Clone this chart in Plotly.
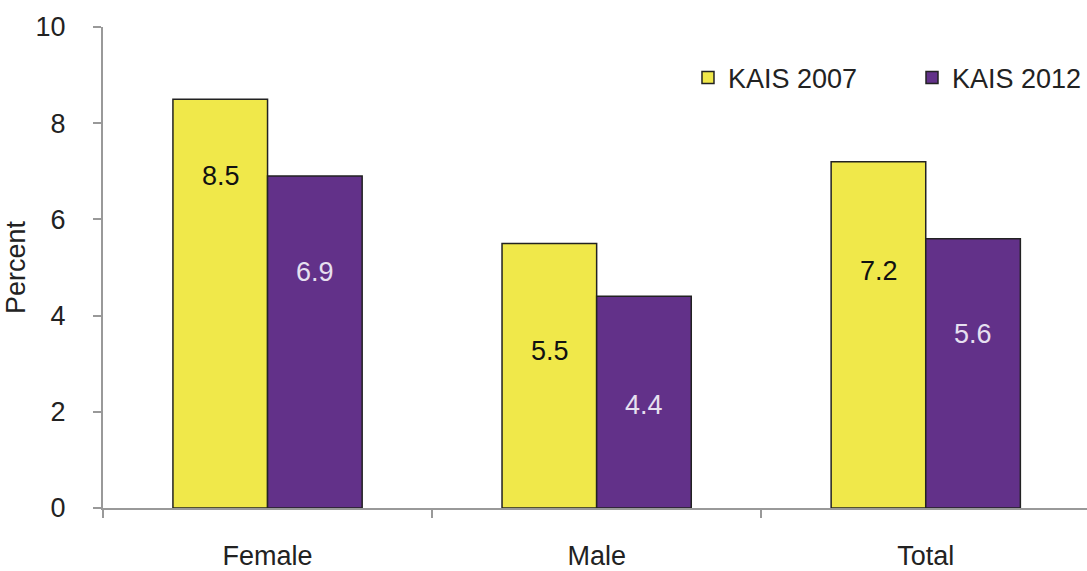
import plotly.graph_objects as go

categories = ["Female", "Male", "Total"]
kais_2007 = [8.5, 5.5, 7.2]
kais_2012 = [6.9, 4.4, 5.6]
series_names = ["KAIS 2007", "KAIS 2012"]
y_ticks = [0, 2, 4, 6, 8, 10]

# label placement (style only): pixel offset below each bar top
label_drop_2007 = [77, 108, 109]
label_drop_2012 = [96, 109, 95]

YELLOW = "#F0E84A"
PURPLE = "#623189"
FONT = "Liberation Sans, Arial, sans-serif"
FS = 27

fig = go.Figure()
fig.add_trace(go.Bar(x=categories, y=kais_2007, name=series_names[0], legend="legend",
                     marker=dict(color=YELLOW, line=dict(color="#222222", width=1.5))))
fig.add_trace(go.Bar(x=categories, y=kais_2012, name=series_names[1], legend="legend2",
                     marker=dict(color=PURPLE, line=dict(color="#222222", width=1.5))))

annotations = []
for i, c in enumerate(categories):
    annotations.append(dict(x=c, y=kais_2007[i], text=f"{kais_2007[i]:.1f}", showarrow=False,
                            xshift=-47, yshift=-label_drop_2007[i],
                            font=dict(size=FS, color="#111111", family=FONT)))
    annotations.append(dict(x=c, y=kais_2012[i], text=f"{kais_2012[i]:.1f}", showarrow=False,
                            xshift=47, yshift=-label_drop_2012[i],
                            font=dict(size=FS, color="#E6E0F0", family=FONT)))

legend_common = dict(orientation="h", yanchor="middle", y=0.894, itemwidth=30,
                     font=dict(size=FS, color="#222222", family=FONT),
                     bgcolor="rgba(0,0,0,0)")

fig.update_layout(
    width=1087, height=571,
    margin=dict(l=103, r=0, t=27, b=63),
    paper_bgcolor="white", plot_bgcolor="white",
    barmode="group", bargap=0.425, bargroupgap=0,
    font=dict(family=FONT, size=FS, color="#222222"),
    showlegend=True,
    legend=dict(x=0.5945, xanchor="left", **legend_common),
    legend2=dict(x=1.0, xanchor="right", **legend_common),
    annotations=annotations,
)
fig.update_xaxes(
    range=[-0.5, 2.49], showline=True, linecolor="#999999", linewidth=2,
    ticks="outside", tickson="boundaries", ticklen=8, tickcolor="#999999", tickwidth=2,
    ticklabelstandoff=23, showgrid=False, zeroline=False, automargin=False,
    tickfont=dict(size=FS, color="#222222", family=FONT),
)
fig.update_yaxes(
    range=[0, 10], tickvals=y_ticks, showline=True, linecolor="#999999", linewidth=2,
    ticks="outside", ticklen=8, tickcolor="#999999", tickwidth=2,
    ticklabelstandoff=22, showgrid=False, zeroline=False, automargin=False,
    title=dict(text="Percent", font=dict(size=FS, color="#222222", family=FONT), standoff=2),
    tickfont=dict(size=FS, color="#222222", family=FONT),
)

fig.write_html("out.html")
